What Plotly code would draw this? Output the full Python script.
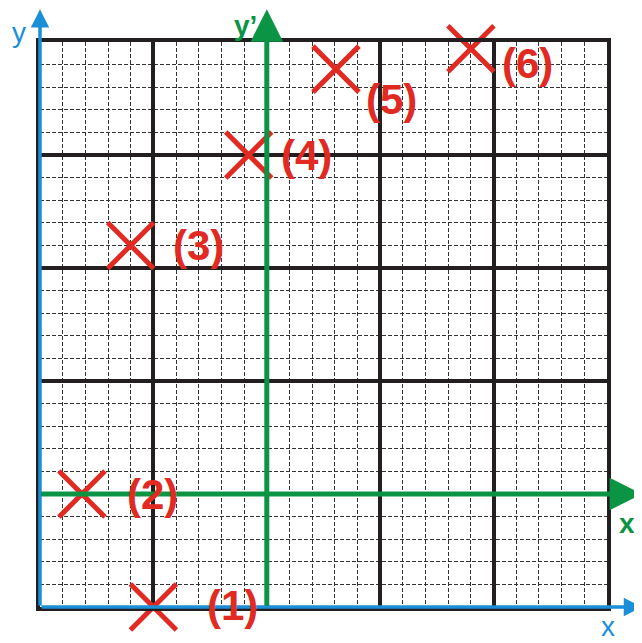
import plotly.graph_objects as go

# points in grid units (25 x 25 grid, 5 small squares per big square)
labels = ["(1)", "(2)", "(3)", "(4)", "(5)", "(6)"]
px = [5, 1.85, 4, 9.2, 13.05, 19]
py = [0, 5, 16, 20, 23.8, 24.7]

# origin of the primed axes
x_prime0 = 10
y_prime0 = 5

red = "#e02a22"
green = "#0b9444"
blue = "#1a8fd8"
black = "#231f20"
font = "Arial, Liberation Sans, sans-serif"

fig = go.Figure()

fig.add_trace(go.Scatter(
    x=px, y=py,
    mode="markers",
    marker=dict(symbol="x-thin", size=46, line=dict(color=red, width=5)),
    cliponaxis=False,
    hoverinfo="skip",
    showlegend=False,
))

# axes with arrows
def arrow(x0, y0, x1, y1, color, width, size):
    fig.add_annotation(x=x1, y=y1, ax=x0, ay=y0, xref="x", yref="y",
                       axref="x", ayref="y", text="", showarrow=True,
                       arrowhead=2, arrowsize=size, arrowwidth=width,
                       arrowcolor=color, standoff=0)

arrow(0, 0, 26.55, 0, blue, 3.5, 1.05)
arrow(0, 0, 0, 26.45, blue, 3.5, 1.05)
arrow(0, y_prime0, 26.55, y_prime0, green, 5, 1.3)
arrow(x_prime0, 0, x_prime0, 26.45, green, 5, 1.3)

# label offsets next to each cross (pixels)
shift_x = [79, 71, 68, 58, 56, 57]
shift_y = [2, 0, 0, 0, -30, -15]
for lab, x, y, dx, dy in zip(labels, px, py, shift_x, shift_y):
    fig.add_annotation(x=x, y=y, text="<b>%s</b>" % lab, showarrow=False,
                       xshift=dx, yshift=dy, xanchor="center", yanchor="middle",
                       font=dict(family=font, size=42, color=red))

# axis names
def name(x, y, txt, color, xanchor="center"):
    fig.add_annotation(x=x, y=y, xref="paper", yref="paper", text=txt,
                       showarrow=False, xanchor=xanchor, yanchor="middle",
                       font=dict(family=font, size=28, color=color))

name(-0.037, 1.016, "y", blue)
name(1.002, -0.0353, "x", blue)
name(0.3616, 1.030, "<b>y’</b>", green)
name(1.0176, 0.148, "<b>x’</b>", green, xanchor="left")

ax_style = dict(
    range=[0, 25], dtick=5, tick0=0,
    showgrid=True, gridcolor=black, gridwidth=3.5,
    zeroline=False, showticklabels=False, ticks="",
    showline=True, linecolor=black, linewidth=3.5, mirror=True,
    minor=dict(dtick=1, showgrid=True, gridcolor="#333333", gridwidth=1,
               griddash="4px,2px"),
    fixedrange=True,
)

# the page body adds 8px, so the figure is 8px smaller
fig.update_layout(
    width=634, height=635,
    margin=dict(l=32, r=35, t=34, b=36),
    plot_bgcolor="white", paper_bgcolor="white",
    xaxis=ax_style, yaxis=ax_style,
)

fig.write_html("out.html")
